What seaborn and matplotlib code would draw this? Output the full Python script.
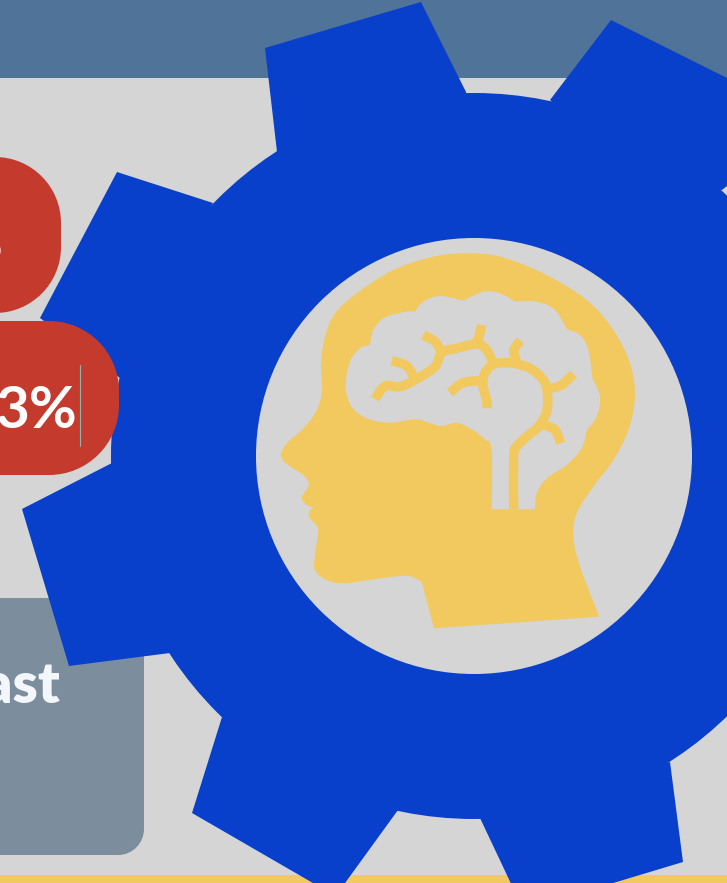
import matplotlib.pyplot as plt
import matplotlib.patches as mpatches
from matplotlib.path import Path
import seaborn as sns

# colours
BG = '#D5D5D5'
BAND = '#4F7399'
GEAR = '#0840CC'
YELLOW = '#F2C95F'
RED = '#C43B2E'
SLATE = '#7C8E9D'

# gear body and teeth, in picture pixels
gear_center = (474, 456)
gear_radius = 363
hole_radius = 218
teeth = [
    [(277, 152), (265, 48), (421, 2), (466, 92), (470, 110)],
    [(550, 100), (611, 20), (727, 78), (727, 186), (722, 190), (640, 180)],
    [(670, 762), (683, 862), (590, 890), (514, 890), (480, 818)],
    [(398, 810), (340, 890), (325, 890), (192, 813), (222, 717)],
    [(170, 653), (69, 666), (22, 509), (112, 463)],
    [(120, 378), (40, 318), (117, 172), (213, 203)],
]

# head silhouette, traced at 3x from a crop starting at (260, 230)
# a repeated point makes a sharp corner
head = [(522, 1195), (522, 1195), (485, 1055), (485, 1055), (455, 1040), (420, 1038), (340, 1048),
        (250, 1060), (195, 1048), (165, 1020), (163, 990), (175, 900), (165, 882),
        (147, 860), (150, 840), (163, 833), (163, 833), (140, 825), (125, 805), (135, 785),
        (147, 762), (130, 735), (95, 712), (68, 690), (65, 665), (85, 635), (125, 600),
        (165, 550), (185, 490), (183, 400), (195, 320), (225, 250), (290, 190),
        (400, 120), (520, 80), (620, 70), (720, 80), (850, 130), (980, 210),
        (1060, 300), (1110, 400), (1125, 500), (1105, 600), (1060, 690), (1000, 770),
        (950, 850), (940, 920), (960, 1010), (1018, 1160), (1018, 1160)]

brain = [(695, 838), (695, 838), (695, 660), (675, 628), (635, 598), (590, 578), (540, 588), (470, 568),
         (390, 578), (320, 565), (275, 530), (257, 470), (270, 395), (300, 355),
         (330, 345), (330, 345), (340, 300), (375, 262), (440, 245), (465, 245), (465, 245), (490, 215),
         (540, 198), (610, 212), (610, 212), (670, 185), (720, 190), (765, 215), (765, 215), (830, 215),
         (885, 240), (920, 298), (920, 298), (960, 315), (985, 360), (997, 445), (997, 445), (1020, 500),
         (1010, 560), (980, 600), (980, 600), (965, 655), (920, 705), (860, 745), (830, 790),
         (825, 838), (825, 838)]

vessels = [
    [(761, 838), (761, 838), (761, 680), (770, 650), (800, 620), (835, 590), (860, 545), (862, 490), (850, 450),
     (810, 415), (760, 400), (710, 400), (680, 420), (668, 460), (680, 510), (682, 535)],
    [(668, 452), (610, 458), (570, 488)],
    [(700, 400), (680, 360), (650, 342), (590, 355), (545, 368), (525, 410), (470, 447),
     (420, 470), (375, 468), (345, 507)],
    [(665, 285), (655, 325), (640, 345)],
    [(490, 315), (525, 335), (545, 368)],
    [(395, 392), (440, 408), (462, 442)],
    [(782, 332), (762, 360), (770, 398)],
    [(940, 432), (905, 465), (868, 475)],
    [(850, 585), (885, 600), (902, 640)],
]


def to_page(points):
    return [(260 + x / 3, 230 + y / 3) for x, y in points]


def spline_path(points, closed=False):
    # catmull-rom through the traced points, written out as cubic beziers
    pts = to_page(points)
    n = len(pts)

    def get(i):
        return pts[i % n] if closed else pts[min(max(i, 0), n - 1)]

    def tangent(i):
        # corners (repeated points) get no tangent, so they do not overshoot
        a, b, c = get(i - 1), get(i), get(i + 1)
        if closed and (a == b or b == c):
            return (0, 0)
        if not closed and (a == b or b == c) and 0 < i < n - 1:
            return (0, 0)
        return ((c[0] - a[0]) / 6, (c[1] - a[1]) / 6)

    verts = [pts[0]]
    codes = [Path.MOVETO]
    for i in range(n if closed else n - 1):
        p1, p2 = get(i), get(i + 1)
        t1, t2 = tangent(i), tangent(i + 1)
        verts += [(p1[0] + t1[0], p1[1] + t1[1]), (p2[0] - t2[0], p2[1] - t2[1]), p2]
        codes += [Path.CURVE4] * 3
    return Path(verts, codes)


def rounded(x0, y0, x1, y1, r, color, z):
    # true circular corners, the fancy box ones come out too square
    k = 0.5523 * r
    verts = [(x0 + r, y0), (x1 - r, y0),
             (x1 - r + k, y0), (x1, y0 + r - k), (x1, y0 + r),
             (x1, y1 - r),
             (x1, y1 - r + k), (x1 - r + k, y1), (x1 - r, y1),
             (x0 + r, y1),
             (x0, y0 + r), (x0 + r, y0)]
    codes = [Path.MOVETO, Path.LINETO,
             Path.CURVE4, Path.CURVE4, Path.CURVE4,
             Path.LINETO,
             Path.CURVE4, Path.CURVE4, Path.CURVE4,
             Path.LINETO, Path.LINETO, Path.LINETO]
    return mpatches.PathPatch(Path(verts, codes), fc=color, ec='none', zorder=z)


sns.set_theme(style='white')
plt.rcParams['font.family'] = ['Lato', 'DejaVu Sans']

fig = plt.figure(figsize=(7.27, 8.83), dpi=100, facecolor=BG)
ax = fig.add_axes([0, 0, 1, 1])
ax.set_xlim(0, 727)
ax.set_ylim(883, 0)
ax.axis('off')

# bands
ax.add_patch(mpatches.Rectangle((0, 0), 727, 78, fc=BAND, ec='none', zorder=1))
ax.add_patch(mpatches.Rectangle((0, 875), 727, 8, fc=YELLOW, ec='none', zorder=1))

# grey card behind the gear
ax.add_patch(rounded(-200, 598, 144, 855, 26, SLATE, 2))
ax.text(60, 703, 'ast', color='#F3F7FB', fontsize=41, fontweight='heavy',
        ha='right', va='baseline', zorder=3)

# gear
ax.add_patch(mpatches.Circle(gear_center, gear_radius, fc=GEAR, ec='none', zorder=4))
for tooth in teeth:
    ax.add_patch(mpatches.Polygon(tooth, closed=True, fc=GEAR, ec='none', zorder=4))
ax.add_patch(mpatches.Circle(gear_center, hole_radius, fc=BG, ec='none', zorder=5))

# head with the brain cut out and the vessels on top
ax.add_patch(mpatches.PathPatch(spline_path(head, closed=True), fc=YELLOW, ec='none', zorder=6))
ax.add_patch(mpatches.PathPatch(spline_path(brain, closed=True), fc=BG, ec='none', zorder=7))
for vessel in vessels:
    ax.add_patch(mpatches.PathPatch(spline_path(vessel), fc='none', ec=YELLOW, lw=6.8,
                                    capstyle='butt', joinstyle='round', zorder=8))

# red pills
ax.add_patch(rounded(-200, 157, 61, 313, 66, RED, 9))
ax.add_patch(rounded(-200, 321, 119, 475, 70, RED, 9))
ax.text(3, 261, '%', color='white', fontsize=42, fontweight='bold',
        ha='right', va='baseline', zorder=10)
ax.text(77, 428, '3%', color='white', fontsize=42, fontweight='bold',
        ha='right', va='baseline', zorder=10)
ax.plot([79.5, 79.5], [365, 446], color='#8FB0AE', lw=0.8, zorder=10)

fig.savefig('out.png', dpi=100, facecolor=BG)
